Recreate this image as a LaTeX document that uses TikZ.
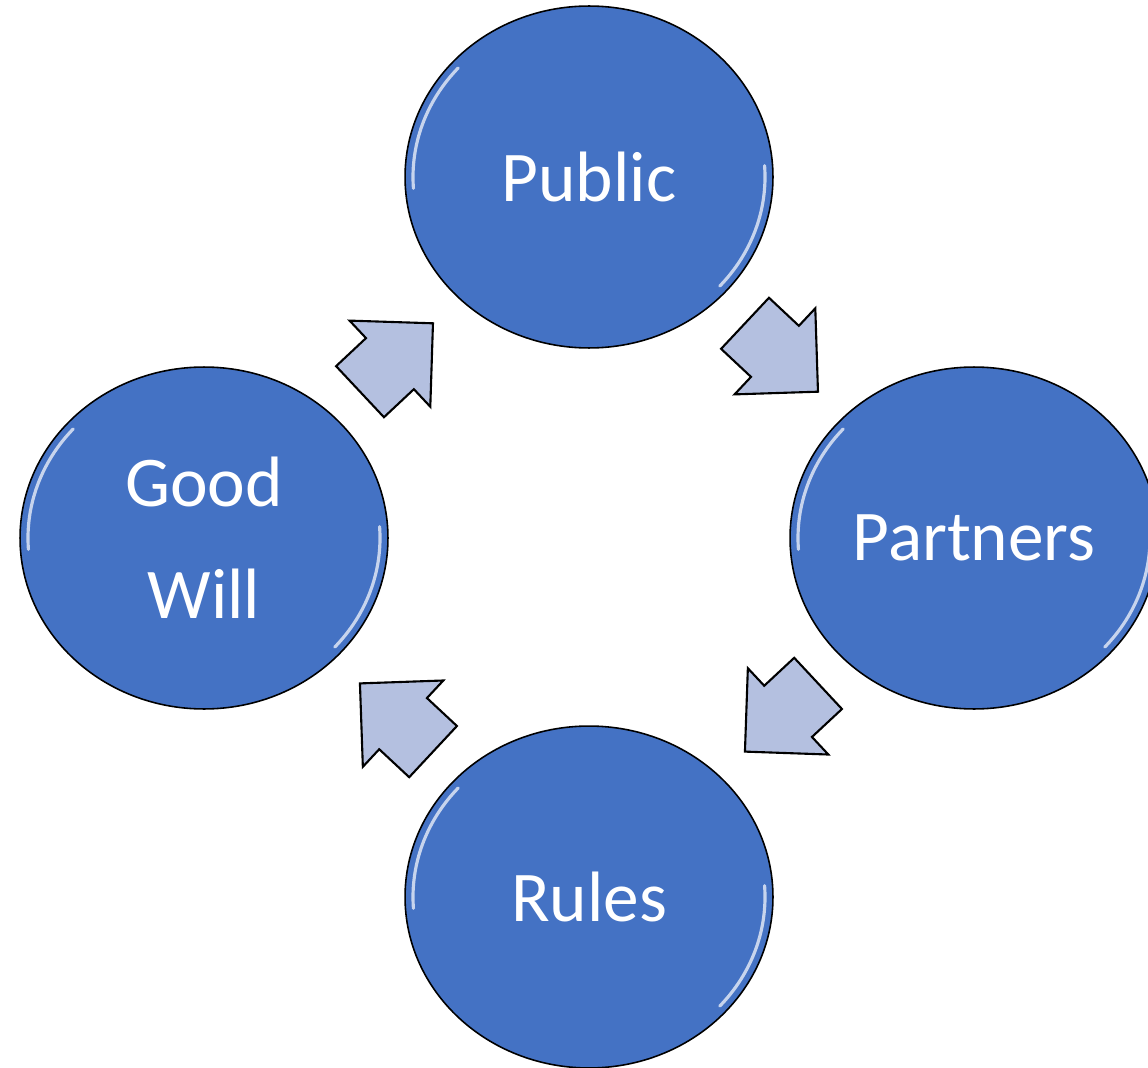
\documentclass[tikz,border=0pt]{standalone}
\usepackage{fontspec}
\setmainfont{Carlito}
\usetikzlibrary{shapes.geometric}
\definecolor{stageblue}{HTML}{4472C4}
\definecolor{arrowblue}{HTML}{B4C0E0}
\begin{document}
\begin{tikzpicture}[x=0.02cm, y=-0.02cm,
	stage/.style={ellipse, minimum width=7.36cm, minimum height=6.84cm, inner sep=0pt, draw=black, line width=0.9pt, fill=stageblue, text=white, align=center, font=\fontsize{40.6}{63.7}\selectfont},
	gloss/.style={white, opacity=0.7, line width=1.8pt, line cap=round},
	cyclearrow/.pic={\draw[fill=arrowblue, line width=1.2pt, line join=miter] (-50,-35) -- (-9,-35) -- (-9,-59) -- (50,0) -- (-9,59) -- (-9,35) -- (-50,35) -- cycle;}]
	\useasboundingbox (0,0) rectangle (1148,1067);
	
	\node[stage] (public) at (589,177) {Public};
	\node[stage] (partners) at (974,538) {Partners};
	\node[stage] (rules) at (589,897) {Rules};
	\node[stage] (goodwill) at (204,538) {Good\\Will};
	
	% shine along the rims
	\foreach \n in {public, partners, rules, goodwill} {
		\draw[gloss] (\n.center) ++(176:176 and 163) arc[start angle=176, end angle=222, x radius=176, y radius=163];
		\draw[gloss] (\n.center) ++(-4:176 and 163) arc[start angle=-4, end angle=42, x radius=176, y radius=163];
	}
	
	\path (goodwill) -- (public) pic[pos=0.5, sloped, allow upside down]{cyclearrow};
	\path (public) -- (partners) pic[pos=0.5, sloped, allow upside down]{cyclearrow};
	\path (partners) -- (rules) pic[pos=0.5, sloped, allow upside down]{cyclearrow};
	\path (rules) -- (goodwill) pic[pos=0.5, sloped, allow upside down]{cyclearrow};
\end{tikzpicture}
\end{document}
